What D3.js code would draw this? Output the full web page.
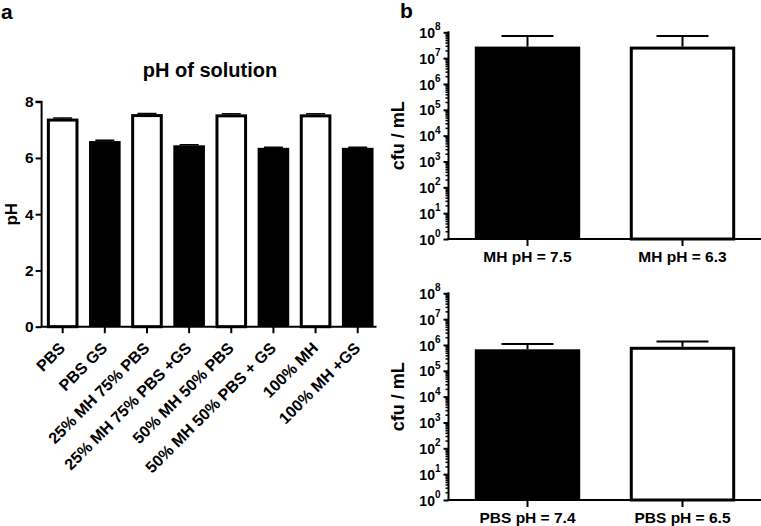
<!DOCTYPE html>
<html><head><meta charset="utf-8">
<script src="https://cdn.jsdelivr.net/npm/d3@7"></script>
<style>
html,body{margin:0;padding:0;background:#fff;}
svg{display:block;font-family:"Liberation Sans",Arial,sans-serif;font-weight:bold;}
</style></head>
<body>
<svg id="c" width="761" height="526"></svg>
<script>
// ---------- data ----------
const phCategories = ["PBS","PBS GS","25% MH 75% PBS","25% MH 75% PBS +GS","50% MH 50% PBS","50% MH 50% PBS + GS","100% MH","100% MH +GS"];
const phValues = [7.40, 6.60, 7.56, 6.45, 7.55, 6.36, 7.55, 6.36];
const phErrors = [0.02, 0.03, 0.02, 0.02, 0.02, 0.02, 0.02, 0.02];
const phFill = ["white","black","white","black","white","black","white","black"];
const phTicks = [0, 2, 4, 6, 8];

const mhCategories = ["MH pH = 7.5", "MH pH = 6.3"];
const mhValues = [2.8e7, 2.8e7];
const mhUpper = [7.2e7, 7.2e7];
const mhFill = ["black", "white"];

const pbsCategories = ["PBS pH = 7.4", "PBS pH = 6.5"];
const pbsValues = [6.8e5, 8.5e5];
const pbsUpper = [1.1e6, 1.35e6];
const pbsFill = ["black", "white"];

const logTicks = [1e0, 1e1, 1e2, 1e3, 1e4, 1e5, 1e6, 1e7, 1e8];

const FONT = '"Liberation Sans",Arial,sans-serif';
const svg = d3.select("#c");

// ---------- panel labels ----------
svg.append("text").attr("x", 1).attr("y", 19).attr("font-size", 21).text("a");
svg.append("text").attr("x", 400).attr("y", 18).attr("font-size", 21).text("b");

// ---------- panel a ----------
(function(){
  const g = svg.append("g");
  const x = d3.scaleBand().domain(phCategories).range([41.6, 378.8]).paddingInner(0.25).paddingOuter(0.125);
  const y = d3.scaleLinear().domain([0, 8]).range([326.7, 101.7]);
  const bw = x.bandwidth();

  g.append("text").attr("x", 210).attr("y", 77).attr("text-anchor", "middle")
    .attr("font-size", 20).text("pH of solution");

  phCategories.forEach((c, i) => {
    const v = phValues[i];
    if (phFill[i] === "black") {
      g.append("rect").attr("x", x(c)).attr("y", y(v)).attr("width", bw)
        .attr("height", y(0) - y(v)).attr("fill", "black");
    } else {
      g.append("rect").attr("x", x(c) + 1.5).attr("y", y(v) + 1.5).attr("width", bw - 3)
        .attr("height", y(0) - y(v) - 1.5).attr("fill", "white").attr("stroke", "black").attr("stroke-width", 3);
    }
    const cx = x(c) + bw / 2;
    const e = y(v + phErrors[i]);
    g.append("line").attr("x1", cx).attr("x2", cx).attr("y1", y(v)).attr("y2", e).attr("stroke", "black").attr("stroke-width", 1.5);
    g.append("line").attr("x1", cx - bw * 0.3).attr("x2", cx + bw * 0.3).attr("y1", e).attr("y2", e).attr("stroke", "black").attr("stroke-width", 1.5);
  });

  const ya = g.append("g").attr("transform", "translate(41.6,0)")
    .call(d3.axisLeft(y).tickValues(phTicks).tickSize(6).tickPadding(2));
  ya.select(".domain").attr("stroke-width", 2).attr("d", `M-6,${y(8)}H0V${y(0)}`);
  ya.selectAll(".tick line").attr("stroke-width", 2);
  ya.selectAll(".tick text").attr("font-size", 15.5).attr("font-weight", "bold")
    .attr("font-family", FONT).attr("fill", "black");

  const xa = g.append("g").attr("transform", `translate(0,${y(0)})`)
    .call(d3.axisBottom(x).tickSize(6.5).tickSizeOuter(0));
  xa.select(".domain").attr("stroke-width", 2).attr("d", `M40.6,0H376.5`);
  xa.selectAll(".tick line").attr("stroke-width", 2);
  xa.selectAll(".tick text").attr("font-size", 16).attr("font-weight", "bold")
    .attr("font-family", FONT).attr("fill", "black")
    .attr("text-anchor", "end").attr("dy", 0).attr("y", 0)
    .attr("transform", "translate(3.5,22.5) rotate(-45)");

  g.append("text").attr("transform", `translate(17,${(y(0) + y(8)) / 2}) rotate(-90)`)
    .attr("text-anchor", "middle").attr("font-size", 17).text("pH");
})();

// ---------- panel b ----------
function logPanel(cats, vals, upper, fills, yBottom, yTop) {
  const g = svg.append("g");
  const x = d3.scaleBand().domain(cats).range([450, 760]).paddingInner(0.32).paddingOuter(0.16);
  const y = d3.scaleLog().domain([1, 1e8]).range([yBottom, yTop]);
  const bw = x.bandwidth();
  const ax = 448.5;

  cats.forEach((c, i) => {
    const v = vals[i];
    const cx = x(c) + bw / 2;
    const e = y(upper[i]);
    g.append("line").attr("x1", cx).attr("x2", cx).attr("y1", y(v)).attr("y2", e).attr("stroke", "black").attr("stroke-width", 2);
    g.append("line").attr("x1", cx - 26).attr("x2", cx + 26).attr("y1", e).attr("y2", e).attr("stroke", "black").attr("stroke-width", 2);
    if (fills[i] === "black") {
      g.append("rect").attr("x", x(c)).attr("y", y(v)).attr("width", bw)
        .attr("height", y(1) - y(v)).attr("fill", "black");
    } else {
      g.append("rect").attr("x", x(c) + 1.5).attr("y", y(v) + 1.5).attr("width", bw - 3)
        .attr("height", y(1) - y(v) - 1.5).attr("fill", "white").attr("stroke", "black").attr("stroke-width", 3);
    }
  });

  const minor = y.ticks().filter(t => logTicks.indexOf(t) < 0);
  const ym = g.append("g").attr("transform", `translate(${ax},0)`)
    .call(d3.axisLeft(y).tickValues(minor).tickSize(3).tickFormat(""));
  ym.select(".domain").remove();
  ym.selectAll(".tick line").attr("stroke-width", 1.5);

  const ya = g.append("g").attr("transform", `translate(${ax},0)`)
    .call(d3.axisLeft(y).tickValues(logTicks).tickSize(5).tickPadding(4).tickFormat(""));
  ya.select(".domain").attr("stroke-width", 2).attr("d", `M0,${yTop - 1}V${yBottom}`);
  ya.selectAll(".tick line").attr("stroke-width", 2);
  ya.selectAll(".tick").each(function(d) {
    const t = d3.select(this).append("text").attr("x", -8).attr("dy", "0.36em")
      .attr("text-anchor", "end").attr("fill", "black").attr("font-size", 14)
      .attr("font-weight", "bold").attr("font-family", FONT);
    t.append("tspan").text("10");
    t.append("tspan").attr("font-size", 10).attr("dy", "-0.75em").text(Math.round(Math.log10(d)));
  });

  const xa = g.append("g").attr("transform", `translate(0,${yBottom})`)
    .call(d3.axisBottom(x).tickSize(7).tickSizeOuter(0).tickPadding(5));
  xa.select(".domain").attr("stroke-width", 2).attr("d", `M${ax - 1},0H761`);
  xa.selectAll(".tick line").attr("stroke-width", 2);
  xa.selectAll(".tick text").attr("font-size", 15.5).attr("font-weight", "bold")
    .attr("font-family", FONT).attr("fill", "black");

  g.append("text").attr("transform", `translate(404,${(yTop + yBottom) / 2}) rotate(-90)`)
    .attr("text-anchor", "middle").attr("font-size", 18).text("cfu / mL");
}
logPanel(mhCategories, mhValues, mhUpper, mhFill, 239, 32.3);
logPanel(pbsCategories, pbsValues, pbsUpper, pbsFill, 500, 293.3);
</script>
</body></html>
